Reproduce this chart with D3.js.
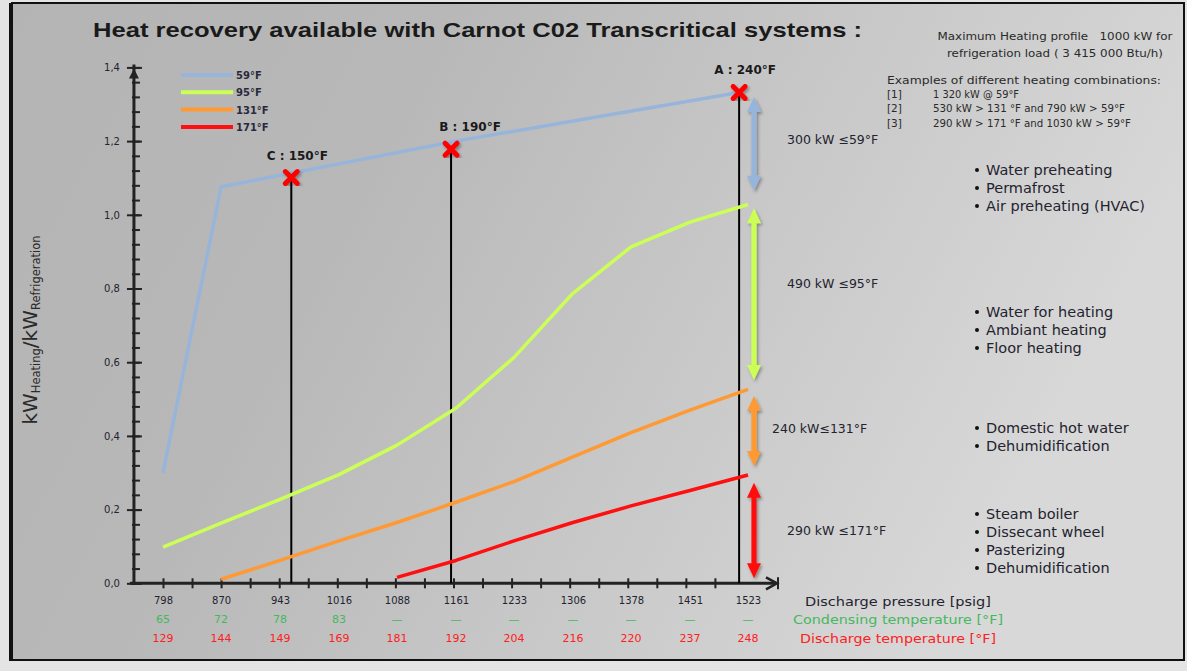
<!DOCTYPE html>
<html><head><meta charset="utf-8">
<script src="https://cdn.jsdelivr.net/npm/d3@7"></script>
<style>html,body{margin:0;padding:0;background:#e4e4e4;}svg{display:block;}</style>
</head><body>
<script>
// ---------- data ----------
const title = "Heat recovery available with Carnot C02 Transcritical systems :";
const pressureTicks = [798, 870, 943, 1016, 1088, 1161, 1233, 1306, 1378, 1451, 1523];
const condensingTemps = ["65", "72", "78", "83", "—", "—", "—", "—", "—", "—", "—"];
const dischargeTemps = ["129", "144", "149", "169", "181", "192", "204", "216", "220", "237", "248"];
const yTicks = [0, 0.2, 0.4, 0.6, 0.8, 1.0, 1.2, 1.4];

const seriesNames = ["59°F", "95°F", "131°F", "171°F"];
const pressure59 = [798, 870, 1161, 1512];
const values59 = [0.30, 1.076, 1.20, 1.332];
const pressure95 = [798, 870, 943, 1016, 1088, 1161, 1233, 1306, 1378, 1451, 1523];
const values95 = [0.098, 0.163, 0.228, 0.295, 0.375, 0.475, 0.613, 0.787, 0.913, 0.980, 1.028];
const pressure131 = [870, 943, 1016, 1088, 1161, 1233, 1306, 1378, 1451, 1523];
const values131 = [0.011, 0.062, 0.115, 0.165, 0.22, 0.276, 0.343, 0.409, 0.470, 0.526];
const pressure171 = [1088, 1161, 1233, 1306, 1378, 1451, 1523];
const values171 = [0.016, 0.062, 0.115, 0.165, 0.21, 0.252, 0.294];

const pointNames = ["A : 240°F", "B : 190°F", "C : 150°F"];
const pointPressure = [1512, 1155, 957];
const pointValue = [1.332, 1.178, 1.101];

const rangeTop = [1.32, 1.018, 0.508, 0.273];
const rangeBottom = [1.065, 0.552, 0.318, 0.014];
const rangeLabels = ["300 kW ≤59°F", "490 kW ≤95°F", "240 kW≤131°F", "290 kW ≤171°F"];

const uses = [
  ["Water preheating", "Permafrost", "Air preheating (HVAC)"],
  ["Water for heating", "Ambiant heating", "Floor heating"],
  ["Domestic hot water", "Dehumidification"],
  ["Steam boiler", "Dissecant wheel", "Pasterizing", "Dehumidification"]
];
const infoLines = ["Maximum Heating profile   1000 kW for", "refrigeration load ( 3 415 000 Btu/h)"];
const exampleHeader = "Examples of different heating combinations:";
const exampleIds = ["[1]", "[2]", "[3]"];
const exampleTexts = ["1 320 kW @ 59°F", "530 kW > 131 °F and 790 kW > 59°F", "290 kW > 171 °F and 1030 kW > 59°F"];
const axisRowTitles = ["Discharge pressure [psig]", "Condensing temperature [°F]", "Discharge temperature [°F]"];

// ---------- styles ----------
const W = 1187, H = 671;
const colors = ["#97b5da", "#ccff55", "#ff9933", "#ff1010"];
const FONT = "'DejaVu Sans', sans-serif";
const dark = "#23232f";

const svg = d3.select("body").append("svg").attr("width", W).attr("height", H);
const defs = svg.append("defs");
const grad = defs.append("linearGradient").attr("id", "bg").attr("x1", "0").attr("y1", "0").attr("x2", "1").attr("y2", "0.3");
grad.append("stop").attr("offset", "0").attr("stop-color", "#b4b4b4");
grad.append("stop").attr("offset", "0.35").attr("stop-color", "#b8b8b8");
grad.append("stop").attr("offset", "1").attr("stop-color", "#d8d8d8");
const sh = defs.append("filter").attr("id", "shadow").attr("x", "-50%").attr("y", "-20%").attr("width", "200%").attr("height", "140%");
sh.append("feDropShadow").attr("dx", 1.5).attr("dy", 2).attr("stdDeviation", 1.5).attr("flood-color", "#000").attr("flood-opacity", 0.35);

// frame
svg.append("rect").attr("x", 12).attr("y", 3).attr("width", 1172).attr("height", 657)
  .attr("fill", "url(#bg)").attr("stroke", "#111").attr("stroke-width", 2);
svg.append("rect").attr("x", 9).attr("y", 3).attr("width", 4).attr("height", 658).attr("fill", "#111");

// scales
const x = d3.scaleLinear().domain([798, 1523]).range([163, 748]);
const y = d3.scaleLinear().domain([0, 1.4]).range([583.3, 67.4]);
const step = (pressureTicks[1] - pressureTicks[0]);
const xOrigin = x(pressureTicks[0]) - (x(pressureTicks[1]) - x(pressureTicks[0])) / 2;

// title
svg.append("text").attr("x", 93).attr("y", 37).text(title)
  .attr("font-family", "'Liberation Sans', sans-serif").attr("font-weight", "bold").attr("font-size", 21)
  .attr("fill", "#1a1a1a").attr("textLength", 769).attr("lengthAdjust", "spacingAndGlyphs");

// y axis
const yMinor = d3.range(0, 1.4001, 0.04);
const yAxisG = svg.append("g").attr("transform", `translate(${xOrigin},0)`);
yAxisG.call(d3.axisLeft(y).tickValues(yMinor).tickSize(0).tickFormat(""));
yAxisG.select(".domain").remove();
yAxisG.selectAll(".tick line").attr("x1", -2).attr("x2", 6).attr("stroke", "#222").attr("stroke-width", 2);
const yMajorG = svg.append("g").attr("transform", `translate(${xOrigin},0)`);
yMajorG.call(d3.axisLeft(y).tickValues(yTicks).tickSize(0).tickPadding(14).tickFormat(d => d3.format(".1f")(d).replace(".", ",")));
yMajorG.select(".domain").remove();
yMajorG.selectAll(".tick line").attr("x1", -7).attr("x2", 8).attr("stroke", "#222").attr("stroke-width", 2);
yMajorG.selectAll(".tick text").attr("font-family", FONT).attr("font-size", 10).attr("fill", dark);
svg.append("line").attr("x1", xOrigin).attr("x2", xOrigin).attr("y1", y(0)).attr("y2", y(1.4) - 3)
  .attr("stroke", "#222").attr("stroke-width", 3);
svg.append("path").attr("d", `M${xOrigin},${y(1.4) + 1} l-5,10 l10,0 z`).attr("fill", "#222");

// x axis
const halfSteps = d3.range(0, 21).map(i => pressureTicks[0] - step / 2 + i * step / 2);
const xAxisG = svg.append("g").attr("transform", `translate(0,${y(0)})`);
xAxisG.call(d3.axisBottom(x).tickValues(halfSteps.slice(1)).tickSize(0).tickFormat(""));
xAxisG.select(".domain").remove();
xAxisG.selectAll(".tick line").attr("y1", -5).attr("y2", 5).attr("stroke", "#222").attr("stroke-width", 2);
svg.append("line").attr("x1", xOrigin - 4).attr("x2", 776).attr("y1", y(0)).attr("y2", y(0))
  .attr("stroke", "#222").attr("stroke-width", 3);
svg.append("path").attr("d", `M766,${y(0) - 6} L777,${y(0)} L766,${y(0) + 6}`).attr("fill", "none").attr("stroke", "#222").attr("stroke-width", 2.5);
svg.append("line").attr("x1", 778).attr("x2", 778).attr("y1", y(0) - 6).attr("y2", y(0) + 6).attr("stroke", "#222").attr("stroke-width", 2);

const xLab = svg.append("g").attr("transform", `translate(0,${y(0)})`);
xLab.call(d3.axisBottom(x).tickValues(pressureTicks).tickSize(0).tickPadding(14).tickFormat(d3.format("d")));
xLab.select(".domain").remove();
xLab.selectAll(".tick text").attr("font-family", FONT).attr("font-size", 10).attr("fill", dark);

svg.append("g").selectAll("text").data(condensingTemps).join("text")
  .attr("x", (d, i) => x(pressureTicks[i])).attr("y", 623).attr("text-anchor", "middle")
  .attr("font-family", FONT).attr("font-size", 11).attr("fill", "#45b85e").text(d => d);
svg.append("g").selectAll("text").data(dischargeTemps).join("text")
  .attr("x", (d, i) => x(pressureTicks[i])).attr("y", 642).attr("text-anchor", "middle")
  .attr("font-family", FONT).attr("font-size", 11).attr("fill", "#ff2020").text(d => d);

const rowColors = [dark, "#45b85e", "#ff2020"];
const rowLen = [186, 210, 196];
svg.append("g").selectAll("text").data(axisRowTitles).join("text")
  .attr("x", 898).attr("y", (d, i) => 606 + i * 18.3).attr("text-anchor", "middle")
  .attr("font-family", FONT).attr("font-size", 13).attr("fill", (d, i) => rowColors[i])
  .attr("textLength", (d, i) => rowLen[i]).attr("lengthAdjust", "spacingAndGlyphs").text(d => d);

// y axis title
const yt = svg.append("text").attr("transform", "translate(37,330) rotate(-90)").attr("text-anchor", "middle")
  .attr("font-family", FONT).attr("fill", "#2a2a2a");
yt.append("tspan").attr("font-size", 20).text("kW");
yt.append("tspan").attr("font-size", 11.5).attr("dy", 3).text("Heating");
yt.append("tspan").attr("font-size", 20).attr("dy", -3).text("/kW");
yt.append("tspan").attr("font-size", 11.5).attr("dy", 3).text("Refrigeration");

// vertical marker lines
svg.append("g").selectAll("line").data(pointPressure).join("line")
  .attr("x1", d => x(d)).attr("x2", d => x(d))
  .attr("y1", (d, i) => y(pointValue[i])).attr("y2", y(0))
  .attr("stroke", "#000").attr("stroke-width", 2);

// series lines
const line = d3.line().x(d => x(d[0])).y(d => y(d[1]));
const seriesData = [
  d3.zip(pressure59, values59), d3.zip(pressure95, values95),
  d3.zip(pressure131, values131), d3.zip(pressure171, values171)
];
svg.append("g").selectAll("path").data(seriesData).join("path")
  .attr("d", line).attr("fill", "none").attr("stroke", (d, i) => colors[i]).attr("stroke-width", 3.5)
  .attr("stroke-linejoin", "round");

// markers
const mk = svg.append("g").selectAll("g").data(pointPressure).join("g")
  .attr("transform", (d, i) => `translate(${x(d)},${y(pointValue[i])})`);
mk.append("path").attr("d", "M-6,-6L6,6M-6,6L6,-6").attr("stroke", "#ff0000").attr("stroke-width", 5)
  .attr("stroke-linecap", "round").attr("filter", "url(#shadow)");
const labelDx = [6, 19, 6];
svg.append("g").selectAll("text").data(pointNames).join("text")
  .attr("x", (d, i) => x(pointPressure[i]) + labelDx[i]).attr("y", (d, i) => y(pointValue[i]) - 18)
  .attr("text-anchor", "middle").attr("font-family", FONT).attr("font-size", 12).attr("font-weight", "bold")
  .attr("fill", "#1a1a1a").text(d => d);

// double arrows
const ax = 754;
const arrowPath = (t, b) => {
  const hw = 7, sw = 2.6, hl = 15;
  return `M${ax},${t} L${ax + hw},${t + hl} L${ax + sw},${t + hl} L${ax + sw},${b - hl} L${ax + hw},${b - hl} L${ax},${b} L${ax - hw},${b - hl} L${ax - sw},${b - hl} L${ax - sw},${t + hl} L${ax - hw},${t + hl} Z`;
};
svg.append("g").selectAll("path").data(rangeTop).join("path")
  .attr("d", (d, i) => arrowPath(y(d), y(rangeBottom[i])))
  .attr("fill", (d, i) => colors[i]).attr("filter", "url(#shadow)");
const labX = [787, 787, 772, 787];
svg.append("g").selectAll("text").data(rangeLabels).join("text")
  .attr("x", (d, i) => labX[i])
  .attr("y", (d, i) => [139, 283, 428, 530][i] + 5)
  .attr("font-family", FONT).attr("font-size", 12.5).attr("fill", dark).text(d => d);

// bullet lists
const listTop = [170, 312, 428, 514];
uses.forEach((items, k) => {
  const g = svg.append("g");
  g.selectAll("circle").data(items).join("circle")
    .attr("cx", 977).attr("cy", (d, i) => listTop[k] + i * 18).attr("r", 2).attr("fill", "#111");
  g.selectAll("text").data(items).join("text")
    .attr("x", 986).attr("y", (d, i) => listTop[k] + i * 18 + 5)
    .attr("font-family", FONT).attr("font-size", 14.5).attr("fill", dark).text(d => d);
});

// legend
const lg = svg.append("g").selectAll("g").data(seriesNames).join("g")
  .attr("transform", (d, i) => `translate(181,${75 + i * 17.3})`);
lg.append("line").attr("x1", 0).attr("x2", 52).attr("stroke", (d, i) => colors[i]).attr("stroke-width", 4);
lg.append("text").attr("x", 55).attr("y", 4).attr("font-family", FONT).attr("font-size", 10)
  .attr("font-weight", "bold").attr("fill", "#2a2a3a").text(d => d);

// info texts (top right)
const infoLen = [235, 216];
svg.append("g").selectAll("text").data(infoLines).join("text")
  .attr("x", 1055).attr("y", (d, i) => 40 + i * 16.6).attr("text-anchor", "middle")
  .attr("font-family", FONT).attr("font-size", 10.5).attr("fill", "#2a2a2a").style("white-space", "pre")
  .attr("textLength", (d, i) => infoLen[i]).attr("lengthAdjust", "spacingAndGlyphs").text(d => d);
svg.append("text").attr("x", 887).attr("y", 84).attr("font-family", FONT).attr("font-size", 10.5)
  .attr("fill", "#2a2a2a").attr("textLength", 274).attr("lengthAdjust", "spacingAndGlyphs").text(exampleHeader);
svg.append("g").selectAll("text").data(exampleIds).join("text")
  .attr("x", 887).attr("y", (d, i) => 97.5 + i * 14.6).attr("font-family", FONT).attr("font-size", 10.5)
  .attr("fill", "#2a2a2a").text(d => d);
const exLen = [86, 192, 198];
svg.append("g").selectAll("text").data(exampleTexts).join("text")
  .attr("x", 933).attr("y", (d, i) => 97.5 + i * 14.6).attr("font-family", FONT).attr("font-size", 10.5)
  .attr("fill", "#2a2a2a").attr("textLength", (d, i) => exLen[i]).attr("lengthAdjust", "spacingAndGlyphs").text(d => d);
</script>
</body></html>
